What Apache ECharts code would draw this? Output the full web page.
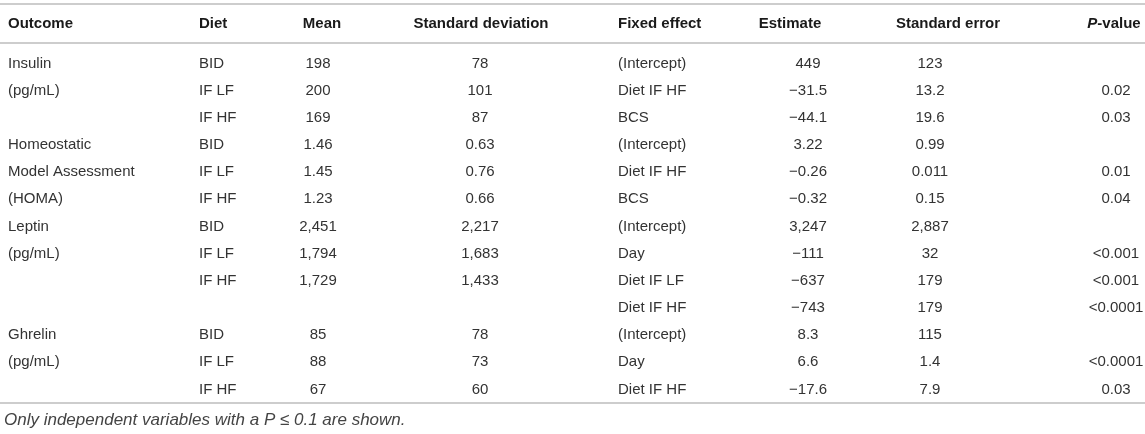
<!DOCTYPE html>
<html>
<head>
<meta charset="utf-8">
<script src="https://cdn.jsdelivr.net/npm/echarts@6/dist/echarts.min.js"></script>
<style>
  html, body { margin: 0; padding: 0; background: #fff; }
  #main { width: 1145px; height: 434px; }
</style>
</head>
<body>
<div id="main"></div>
<script>
// ---- table data ----
const headers   = ['Outcome', 'Diet', 'Mean', 'Standard deviation', 'Fixed effect', 'Estimate', 'Standard error', '{i|P}-value']
const outcomes  = ['Insulin', '(pg/mL)', '', 'Homeostatic', 'Model Assessment', '(HOMA)', 'Leptin', '(pg/mL)', '', '', 'Ghrelin', '(pg/mL)', '']
const diets     = ['BID', 'IF LF', 'IF HF', 'BID', 'IF LF', 'IF HF', 'BID', 'IF LF', 'IF HF', '', 'BID', 'IF LF', 'IF HF']
const means     = ['198', '200', '169', '1.46', '1.45', '1.23', '2,451', '1,794', '1,729', '', '85', '88', '67']
const stdDevs   = ['78', '101', '87', '0.63', '0.76', '0.66', '2,217', '1,683', '1,433', '', '78', '73', '60']
const effects   = ['(Intercept)', 'Diet IF HF', 'BCS', '(Intercept)', 'Diet IF HF', 'BCS', '(Intercept)', 'Day', 'Diet IF LF', 'Diet IF HF', '(Intercept)', 'Day', 'Diet IF HF']
const estimates = ['449', '\u221231.5', '\u221244.1', '3.22', '\u22120.26', '\u22120.32', '3,247', '\u2212111', '\u2212637', '\u2212743', '8.3', '6.6', '\u221217.6']
const stdErrors = ['123', '13.2', '19.6', '0.99', '0.011', '0.15', '2,887', '32', '179', '179', '115', '1.4', '7.9']
const pValues   = ['', '0.02', '0.03', '', '0.01', '0.04', '', '<0.001', '<0.001', '<0.0001', '', '<0.0001', '0.03']
const footnote  = 'Only independent variables with a P \u2264 0.1 are shown.'

// ---- layout ----
const FONT = '"Liberation Sans", Arial, Helvetica, sans-serif'
const columns   = [outcomes, diets, means, stdDevs, effects, estimates, stdErrors, pValues]
const headerX   = [8, 199, 322, 481, 618, 790, 948, 1114]
const cellX     = [8, 199, 318, 480, 618, 808, 930, 1116]
const aligns    = ['left', 'left', 'center', 'center', 'left', 'center', 'center', 'center']
const rows      = diets.map((d, i) => String(i))
const lineStyle = { color: '#bcbcbc', width: 1.5 }

const headerCells = headers.map((t, c) => ({ value: [headerX[c], 0], text: t, align: aligns[c] }))
const bodyCells = []
columns.forEach((col, c) => {
  col.forEach((t, r) => {
    if (t) bodyCells.push({ value: [cellX[c], r], text: t, align: aligns[c] })
  })
})

// 每个单元格渲染为文本
function makeRender(cells, bold) {
  return function (params, api) {
    const cell = cells[params.dataIndex]
    const p = api.coord([api.value(0), api.value(1)])
    return {
      type: 'text',
      style: {
        x: p[0],
        y: p[1],
        text: cell.text,
        align: cell.align,
        verticalAlign: 'middle',
        fill: bold ? '#1a1a1a' : '#333',
        fontSize: 15,
        fontWeight: bold ? 'bold' : 'normal',
        fontFamily: FONT,
        rich: { i: { fontStyle: 'italic', fontWeight: 'bold', fontSize: 15, fontFamily: FONT, fill: '#1a1a1a' } }
      }
    }
  }
}

const hiddenX = (grid, pos, showLine) => ({
  type: 'value', gridIndex: grid, position: pos, min: 0, max: 1145,
  axisLine: { show: showLine, onZero: false, lineStyle },
  axisTick: { show: false }, axisLabel: { show: false }, splitLine: { show: false }
})

const chart = echarts.init(document.getElementById('main'))
chart.setOption({
  animation: false,
  title: {
    text: footnote, left: 4, top: 412, padding: 0,
    textStyle: { fontSize: 17, fontStyle: 'italic', fontWeight: 'normal', color: '#444', fontFamily: FONT }
  },
  grid: [
    { left: 0, right: 0, top: 4, height: 39 },
    { left: 0, right: 0, top: 50, bottom: 31 }
  ],
  xAxis: [hiddenX(0, 'top', true), hiddenX(0, 'bottom', true), hiddenX(1, 'bottom', true)],
  yAxis: [
    { type: 'category', gridIndex: 0, data: ['header'], show: false },
    { type: 'category', gridIndex: 1, data: rows, inverse: true, show: false }
  ],
  series: [
    { type: 'custom', xAxisIndex: 0, yAxisIndex: 0, data: headerCells.map(d => d.value), renderItem: makeRender(headerCells, true) },
    { type: 'custom', xAxisIndex: 2, yAxisIndex: 1, data: bodyCells.map(d => d.value), renderItem: makeRender(bodyCells, false) }
  ]
})
</script>
</body>
</html>
